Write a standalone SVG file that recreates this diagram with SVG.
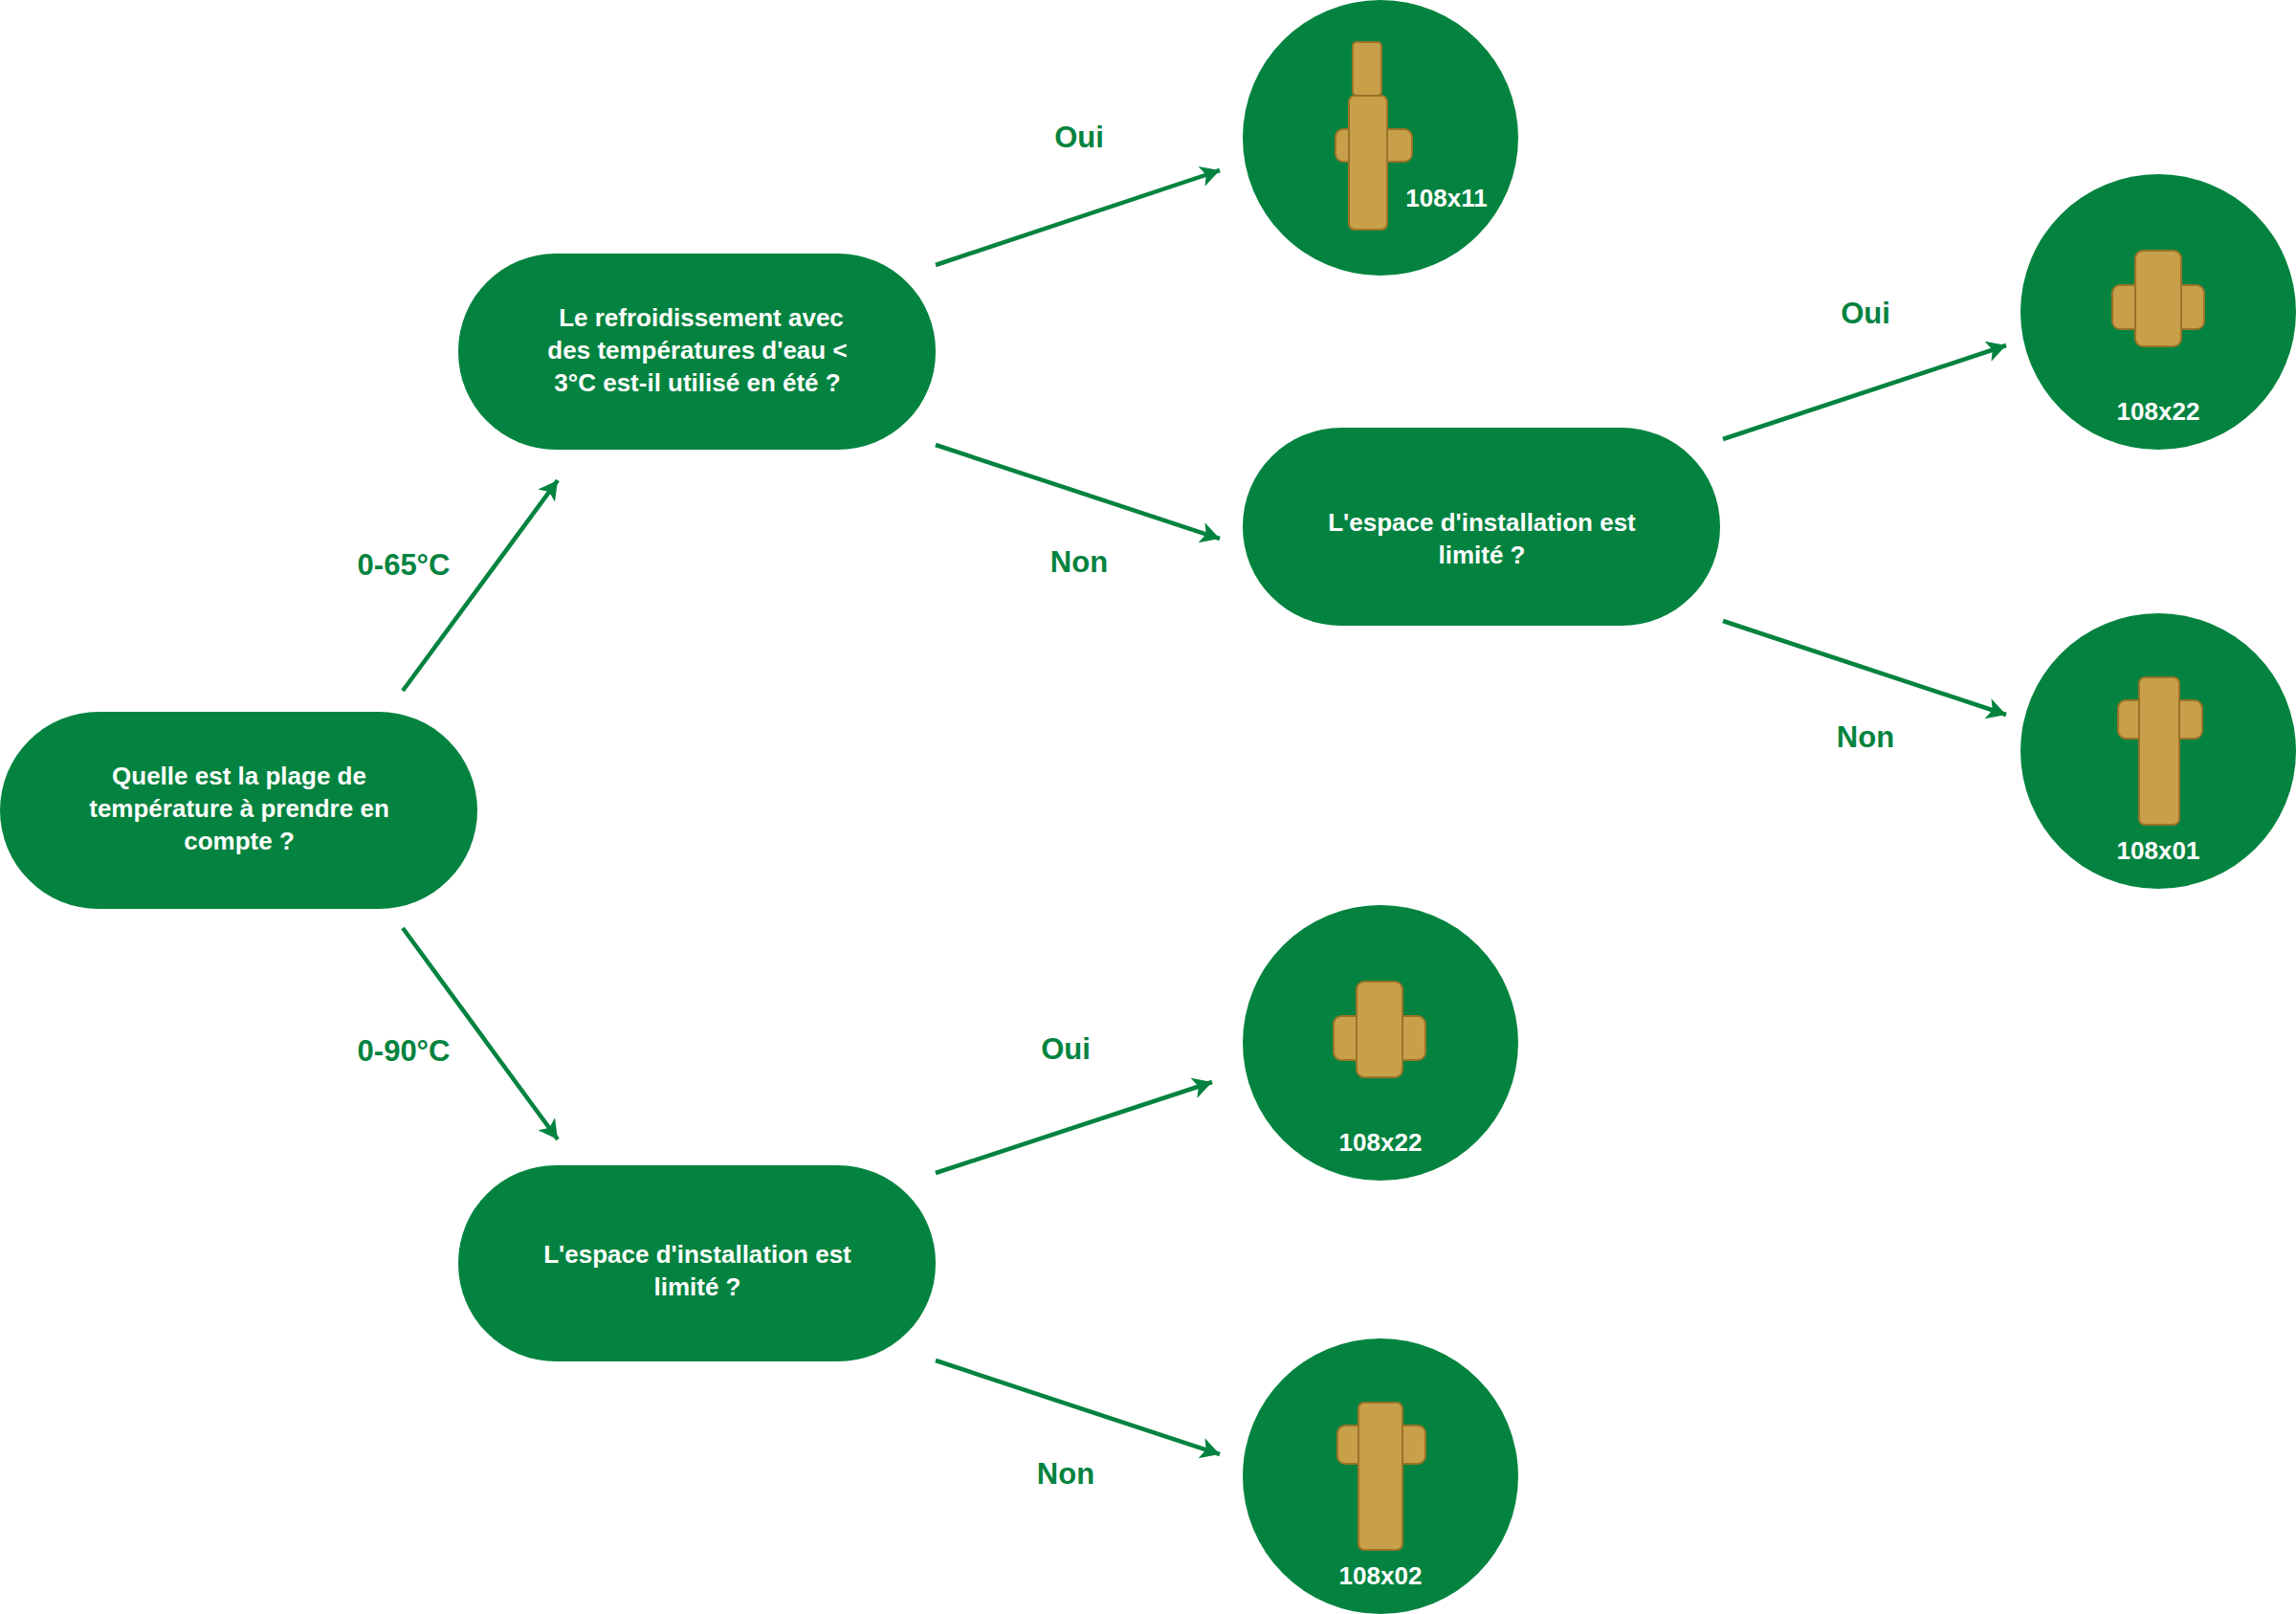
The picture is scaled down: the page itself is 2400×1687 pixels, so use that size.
<svg xmlns="http://www.w3.org/2000/svg" width="2400" height="1687" viewBox="0 0 2400 1687">
<style>
.n{fill:#03833f}
.t{font-family:"Liberation Sans",Arial,sans-serif;font-weight:bold;font-size:26px;fill:#fff;text-anchor:middle}
.l{font-family:"Liberation Sans",Arial,sans-serif;font-weight:bold;font-size:31px;fill:#03833f;text-anchor:middle}
.c{stroke:#03833f;stroke-width:4.5;fill:none;marker-end:url(#a)}
.b{fill:#c9a04a;stroke:#9a7328;stroke-width:2}
</style>
<defs>
<marker id="a" viewBox="0 0 20 20" refX="18" refY="10" markerWidth="10" markerHeight="10" orient="auto" markerUnits="userSpaceOnUse" overflow="visible">
<path d="M-22,-12 L18,10 L-22,32 L-12,10 Z" fill="#03833f" transform="translate(0,0)"/>
</marker>
</defs>
<rect width="2400" height="1687" fill="#fff"/>
<g id="connectors">
<line class="c" x1="421" y1="722" x2="583" y2="502"/>
<line class="c" x1="421" y1="970" x2="583" y2="1191"/>
<line class="c" x1="978" y1="277" x2="1275" y2="178"/>
<line class="c" x1="978" y1="465" x2="1275" y2="563"/>
<line class="c" x1="1801" y1="459" x2="2097" y2="361"/>
<line class="c" x1="1801" y1="649" x2="2097" y2="747"/>
<line class="c" x1="978" y1="1226" x2="1267" y2="1131"/>
<line class="c" x1="978" y1="1422" x2="1275" y2="1520"/>
<text class="l" x="422" y="601">0-65°C</text>
<text class="l" x="422" y="1109">0-90°C</text>
<text class="l" x="1128" y="154">Oui</text>
<text class="l" x="1128" y="598">Non</text>
<text class="l" x="1950" y="338">Oui</text>
<text class="l" x="1950" y="781">Non</text>
<text class="l" x="1114" y="1107">Oui</text>
<text class="l" x="1114" y="1551">Non</text>
</g>
<g id="start"><rect class="n" x="0" y="744" width="499" height="206" rx="103"/>
<text class="t" x="250" y="820">Quelle est la plage de</text><text class="t" x="250" y="854">température à prendre en</text><text class="t" x="250" y="888">compte ?</text></g>
<g id="q1"><rect class="n" x="479" y="265" width="499" height="205" rx="102"/>
<text class="t" x="733" y="341">Le refroidissement avec</text><text class="t" x="729" y="375">des températures d'eau &lt;</text><text class="t" x="729" y="409">3°C est-il utilisé en été ?</text></g>
<g id="q2"><rect class="n" x="479" y="1218" width="499" height="205" rx="102"/>
<text class="t" x="729" y="1320">L'espace d'installation est</text><text class="t" x="729" y="1354">limité ?</text></g>
<g id="q3"><rect class="n" x="1299" y="447" width="499" height="207" rx="103"/>
<text class="t" x="1549" y="555">L'espace d'installation est</text><text class="t" x="1549" y="589">limité ?</text></g>
<g id="p1"><circle class="n" cx="1443" cy="144" r="144"/>
<rect class="b" x="1414" y="44" width="30" height="56" rx="4"/><rect class="b" x="1396" y="135" width="80" height="34" rx="8"/><rect class="b" x="1410" y="100" width="40" height="140" rx="6"/>
<text class="t" x="1512" y="216">108x11</text></g>
<g id="p2"><circle class="n" cx="2256" cy="326" r="144"/>
<rect class="b" x="2208" y="298" width="96" height="46" rx="8"/><rect class="b" x="2232" y="262" width="48" height="100" rx="8"/>
<text class="t" x="2256" y="439">108x22</text></g>
<g id="p3"><circle class="n" cx="2256" cy="785" r="144"/>
<rect class="b" x="2214" y="732" width="88" height="40" rx="8"/><rect class="b" x="2236" y="708" width="42" height="154" rx="6"/>
<text class="t" x="2256" y="898">108x01</text></g>
<g id="p4"><circle class="n" cx="1443" cy="1090" r="144"/>
<rect class="b" x="1394" y="1062" width="96" height="46" rx="8"/><rect class="b" x="1418" y="1026" width="48" height="100" rx="8"/>
<text class="t" x="1443" y="1203">108x22</text></g>
<g id="p5"><circle class="n" cx="1443" cy="1543" r="144"/>
<rect class="b" x="1398" y="1490" width="92" height="40" rx="8"/><rect class="b" x="1420" y="1466" width="46" height="154" rx="6"/>
<text class="t" x="1443" y="1656">108x02</text></g>
</svg>
